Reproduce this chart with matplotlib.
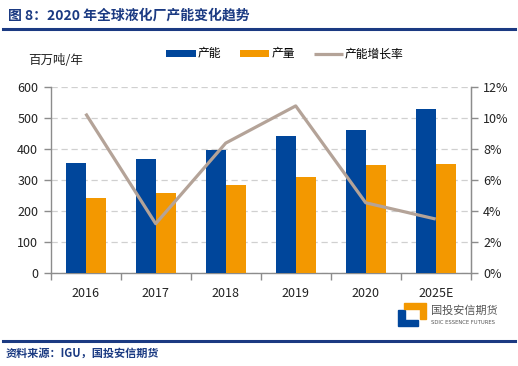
import matplotlib
matplotlib.use('Agg')
import matplotlib.pyplot as plt
from matplotlib.patches import Polygon
from matplotlib.lines import Line2D
from matplotlib.ticker import PercentFormatter, FixedLocator

plt.rcParams['font.family'] = ['Noto Sans CJK SC', 'DejaVu Sans']

years = ['2016', '2017', '2018', '2019', '2020', '2025E']
capacity = [357, 368, 399, 443, 463, 531]
output = [244, 258, 285, 312, 350, 354]
growth = [0.103, 0.032, 0.084, 0.108, 0.0455, 0.035]

BLUE = '#00469B'
ORANGE = '#F39800'
LINE = '#B4A398'
NAVY = '#1B3A82'
AXC = '#8C8C8C'

W, H = 518, 366
fig = plt.figure(figsize=(W / 100, H / 100), dpi=100)
fig.patch.set_facecolor('white')

# ── 标题 / 分隔线 ──
fig.text(8 / W, 1 - 16 / H, '图 8：2020 年全球液化厂产能变化趋势', ha='left', va='center',
         fontsize=10, color=NAVY, fontweight='bold')
fig.add_artist(Line2D([3 / W, 515 / W], [1 - 29 / H, 1 - 29 / H], color=NAVY, lw=2.2))
fig.add_artist(Line2D([3 / W, 515 / W], [1 - 341 / H, 1 - 341 / H], color=NAVY, lw=2.2))
fig.text(6 / W, 1 - 353 / H, '资料来源：IGU，国投安信期货', ha='left', va='center',
         fontsize=8, color=NAVY, style='italic', fontweight='bold')

# ── 主图 ──
ax = fig.add_axes([50.7 / W, 1 - 273.3 / H, 420 / W, 186 / H])
x = list(range(len(years)))
bw = 0.286
ax.bar([i - bw / 2 for i in x], capacity, width=bw, color=BLUE, zorder=3, label='产能')
ax.bar([i + bw / 2 for i in x], output, width=bw, color=ORANGE, zorder=3, label='产量')
ax.set_xlim(-0.5, len(years) - 0.5)
ax.set_ylim(0, 600)
ax.set_yticks(range(0, 601, 100))
ax.yaxis.grid(True, color='#D0D0D0', linestyle=(0, (5, 3)), lw=0.9, zorder=0)
ax.set_axisbelow(True)

ax.xaxis.set_major_locator(FixedLocator([i - 0.5 for i in range(len(years) + 1)]))
ax.xaxis.set_minor_locator(FixedLocator(x))
ax.set_xticklabels([])
ax.set_xticklabels(years, minor=True)
ax.tick_params(axis='x', which='major', length=5, color=AXC, width=1)
ax.tick_params(axis='x', which='minor', length=0, pad=10, labelsize=9, labelcolor='#222222')
ax.tick_params(axis='y', length=5, color=AXC, width=1, labelsize=9, labelcolor='#222222', pad=4)
for s in ['left', 'bottom', 'right']:
    ax.spines[s].set_color(AXC)
    ax.spines[s].set_linewidth(1)
ax.spines['top'].set_visible(False)

ax2 = ax.twinx()
ax2.plot(x, growth, color=LINE, lw=2.3, zorder=4, label='产能增长率', solid_capstyle='butt')
ax2.set_ylim(0, 0.12)
ax2.set_yticks([i / 100 for i in range(0, 13, 2)])
ax2.yaxis.set_major_formatter(PercentFormatter(1.0, decimals=0))
ax2.tick_params(axis='y', length=5, color=AXC, width=1, labelsize=9, labelcolor='#222222', pad=4)
for s in ['top', 'left', 'bottom']:
    ax2.spines[s].set_visible(False)
ax2.spines['right'].set_color(AXC)

fig.text(28 / W, 1 - 61 / H, '百万吨/年', ha='left', va='center', fontsize=9, color='#222222')

# ── 图例 ──
h1, l1 = ax.get_legend_handles_labels()
h2, l2 = ax2.get_legend_handles_labels()
fig.legend(h1 + h2, l1 + l2, loc='center', bbox_to_anchor=(285 / W, 1 - 54 / H), ncol=3,
           frameon=False, fontsize=8.5, handlelength=2.5, handleheight=0.5,
           handletextpad=0.15, columnspacing=1.6)

# ── logo ──
lx, ly = 398, 303
fig.add_artist(Polygon([[(lx) / W, 1 - (ly + 7) / H], [(lx + 7) / W, 1 - (ly + 7) / H],
                        [(lx + 7) / W, 1 - (ly + 17) / H], [(lx + 20) / W, 1 - (ly + 17) / H],
                        [(lx + 20) / W, 1 - (ly + 23) / H], [(lx) / W, 1 - (ly + 23) / H]],
                       closed=True, color=BLUE, transform=fig.transFigure))
fig.add_artist(Polygon([[(lx + 6) / W, 1 - ly / H], [(lx + 28) / W, 1 - ly / H],
                        [(lx + 28) / W, 1 - (ly + 16) / H], [(lx + 22) / W, 1 - (ly + 16) / H],
                        [(lx + 22) / W, 1 - (ly + 6) / H], [(lx + 6) / W, 1 - (ly + 6) / H]],
                       closed=True, color=ORANGE, transform=fig.transFigure))
fig.text(431 / W, 1 - 311 / H, '国投安信期货', ha='left', va='center', fontsize=8, color='#555555')
fig.text(431 / W, 1 - 322 / H, 'SDIC ESSENCE FUTURES', ha='left', va='center', fontsize=3.8,
         color='#555555', family='DejaVu Sans')

fig.savefig('out.png', dpi=100, facecolor='white')
